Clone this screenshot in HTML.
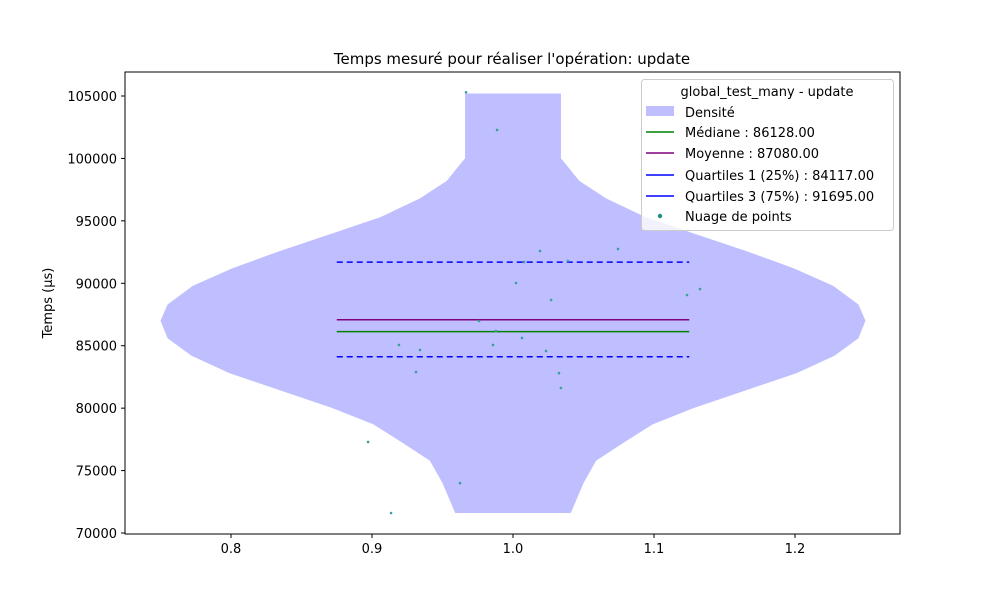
<!DOCTYPE html>
<html><head><meta charset="utf-8"><style>
body{margin:0;background:#fff;}
svg text{font-family:"DejaVu Sans","Liberation Sans",sans-serif;fill:#000;}
</style></head><body>
<svg id="chart" width="1000" height="600" viewBox="0 0 1000 600">
<rect x="0" y="0" width="1000" height="600" fill="#fff"/>
<text x="512" y="64" font-size="15" text-anchor="middle">Temps mesuré pour réaliser l'opération: update</text>
<g id="plot"></g>
<rect x="125" y="72" width="775" height="462" fill="none" stroke="#000" stroke-width="1"/>
<g id="xaxis"></g>
<g id="yaxis"></g>
<text transform="translate(52,303) rotate(-90)" font-size="13" text-anchor="middle">Temps (µs)</text>
<g>
<rect x="641.5" y="79.5" width="252" height="151" rx="3" fill="#fff" fill-opacity="0.8" stroke="#ccc"/>
<text x="767" y="96" font-size="13" text-anchor="middle">global_test_many - update</text>
<rect x="646" y="106" width="28" height="10" fill="#bfbfff"/>
<text x="685" y="117" font-size="13">Densité</text>
<line x1="646" y1="132" x2="674" y2="132" stroke="green" stroke-width="1.5"/>
<text x="685" y="137" font-size="13">Médiane : 86128.00</text>
<line x1="646" y1="153" x2="674" y2="153" stroke="purple" stroke-width="1.5"/>
<text x="685" y="158" font-size="13">Moyenne : 87080.00</text>
<line x1="646" y1="175" x2="674" y2="175" stroke="blue" stroke-width="1.5"/>
<text x="685" y="180" font-size="13">Quartiles 1 (25%) : 84117.00</text>
<line x1="646" y1="196" x2="674" y2="196" stroke="blue" stroke-width="1.5"/>
<text x="685" y="201" font-size="13">Quartiles 3 (75%) : 91695.00</text>
<circle cx="660" cy="216" r="2.2" fill="#1f8f80"/>
<text x="685" y="221" font-size="13">Nuage de points</text>
</g>
</svg>
<script>
const xTicks=[0.8,0.9,1.0,1.1,1.2];
const xTickLabels=["0.8","0.9","1.0","1.1","1.2"];
const yTicks=[70000,75000,80000,85000,90000,95000,100000,105000];
const densityY=[71600,74000,75800,77200,78700,80000,82800,84200,85600,87000,88300,89800,91200,92600,94000,95300,96800,98200,99600,100000,101000,105200];
const densityHalfWidth=[0.041,0.050,0.059,0.078,0.099,0.128,0.201,0.228,0.245,0.250,0.245,0.227,0.199,0.165,0.128,0.094,0.066,0.047,0.037,0.034,0.034,0.034];
const statNames=["median","mean","q1","q3"];
const statValues=[86128,87080,84117,91695];
const statColors=["green","purple","blue","blue"];
const statDash=["","","6,4","6,4"];
const pointsX=[0.9667,0.9887,1.0191,1.0745,1.039,1.0078,1.0021,1.027,1.1234,1.1326,0.9759,0.9879,0.9191,0.934,0.9858,1.0064,1.0234,0.9312,1.0326,1.034,0.8972,0.9624,0.9135];
const pointsY=[105300,102280,92590,92750,91790,91710,90020,88660,89060,89540,86980,86180,85060,84660,85060,85620,84580,82890,82810,81610,77290,74000,71600];

const NS="http://www.w3.org/2000/svg";
const sx=v=>513+(v-1.0)*1410;
const sy=v=>96+(105000-v)*0.012486;
function mk(tag,attrs,parent){const e=document.createElementNS(NS,tag);for(const k in attrs)e.setAttribute(k,attrs[k]);parent.appendChild(e);return e;}
const plot=document.getElementById('plot'),xa=document.getElementById('xaxis'),ya=document.getElementById('yaxis');

let pts=[];
for(let i=0;i<densityY.length;i++)pts.push(sx(1-densityHalfWidth[i])+','+sy(densityY[i]));
for(let i=densityY.length-1;i>=0;i--)pts.push(sx(1+densityHalfWidth[i])+','+sy(densityY[i]));
const vio=mk('polygon',{points:pts.join(' '),fill:'#bfbfff'},plot);



for(let i=0;i<statValues.length;i++){
  const l=mk('line',{x1:sx(0.875),x2:sx(1.125),y1:sy(statValues[i]),y2:sy(statValues[i]),stroke:statColors[i],'stroke-width':1.5},plot);
  if(statDash[i])l.setAttribute('stroke-dasharray',statDash[i]);
  
  
}
for(let i=0;i<pointsX.length;i++){
  const c=mk('circle',{cx:sx(pointsX[i]),cy:sy(pointsY[i]),r:1.3,fill:'#3a9e9a'},plot);
  
  
}
xTicks.forEach((t,i)=>{
  const x=sx(t);
  const l=mk('line',{x1:x,x2:x,y1:534,y2:538,stroke:'#000'},xa);
  
  
  const tx=mk('text',{x:x,y:553,'font-size':13,'text-anchor':'middle'},xa);
  tx.textContent=xTickLabels[i];
  
  
});
yTicks.forEach(t=>{
  const y=sy(t);
  const l=mk('line',{x1:121,x2:125,y1:y,y2:y,stroke:'#000'},ya);
  
  
  const tx=mk('text',{x:117,y:y+5,'font-size':13,'text-anchor':'end'},ya);
  tx.textContent=String(t);
  
  
});
</script>
</body></html>
